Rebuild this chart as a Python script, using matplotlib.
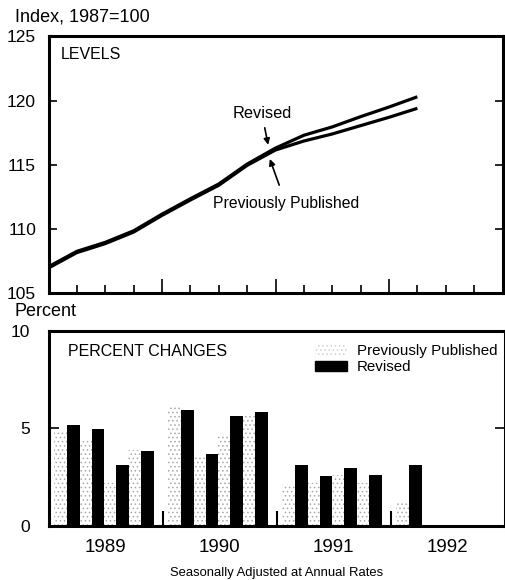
import matplotlib
matplotlib.use("Agg")
import matplotlib.pyplot as plt
from matplotlib.patches import Patch
import numpy as np

plt.rcParams['font.family'] = ['Liberation Sans Narrow', 'Liberation Sans', 'DejaVu Sans']
plt.rcParams['hatch.linewidth'] = 0.6

# ---- data ----
level_quarters = ["1988Q4", "1989Q1", "1989Q2", "1989Q3", "1989Q4",
                  "1990Q1", "1990Q2", "1990Q3", "1990Q4",
                  "1991Q1", "1991Q2", "1991Q3", "1991Q4", "1992Q1"]
levels_revised = [107.05, 108.25, 108.95, 109.85, 111.15, 112.35, 113.5, 115.05,
                  116.3, 117.3, 117.95, 118.75, 119.5, 120.3]
levels_previous = [106.95, 108.15, 108.85, 109.75, 111.05, 112.25, 113.4, 114.95,
                   116.15, 116.85, 117.4, 118.05, 118.7, 119.4]

bar_years = [1989, 1989, 1989, 1989, 1990, 1990, 1990, 1990,
             1991, 1991, 1991, 1991, 1992]
bar_q = [1, 2, 3, 4, 1, 2, 3, 4, 1, 2, 3, 4, 1]
pct_revised = [5.15, 4.97, 3.1, 3.83, 5.92, 3.69, 5.63, 5.81,
               3.12, 2.52, 2.95, 2.61, 3.09]
pct_previous = [4.8, 4.4, 2.2, 3.9, 6.1, 3.5, 4.7, 5.75,
                2.15, 2.2, 2.6, 2.2, 1.2]

year_labels = ["1989", "1990", "1991", "1992"]
level_yticks = [105, 110, 115, 120, 125]
pct_yticks = [0, 5, 10]

# ---- figure ----
W, H = 505, 580
fig = plt.figure(figsize=(W / 100, H / 100), dpi=100)

def frac(l, t, r, b):
    return [l / W, 1 - b / H, (r - l) / W, (b - t) / H]

ax1 = fig.add_axes(frac(48.5, 36.5, 502.5, 293))
ax2 = fig.add_axes(frac(48.5, 331, 504.5, 525.5))

for ax in (ax1, ax2):
    for s in ax.spines.values():
        s.set_linewidth(2.2)
    ax.set_xlim(1989, 1993)

# ---- top panel: levels ----
xq = [1989 + 0.25 * k for k in range(len(level_quarters))]
ax1.plot(xq, levels_previous, color='black', lw=2.3, solid_capstyle='butt')
ax1.plot(xq, levels_revised, color='black', lw=2.3, solid_capstyle='butt')
ax1.set_ylim(105, 125)
ax1.set_yticks(level_yticks)
ax1.tick_params(axis='y', direction='in', length=6, width=1.2, left=True, right=True,
                labelsize=12.5, pad=9)
major = [1990, 1991, 1992]
minor = [1989 + 0.25 * k for k in range(1, 16) if (k % 4) != 0]
ax1.set_xticks(major)
ax1.set_xticks(minor, minor=True)
ax1.tick_params(axis='x', which='major', direction='in', length=10, width=1.2, labelbottom=False)
ax1.tick_params(axis='x', which='minor', direction='in', length=5.5, width=1.2, labelbottom=False)
ax1.text(0.0275, 0.928, "LEVELS", transform=ax1.transAxes, fontsize=11.5, va='center', ha='left')
fig.text(15 / W, 1 - 17 / H, "Index, 1987=100", fontsize=13, va='center', ha='left')

ax1.annotate("Revised", xy=(1990.935, 116.55), xytext=(1990.88, 119.0),
             fontsize=11.8, ha='center', va='center',
             arrowprops=dict(arrowstyle='-|>', color='black', lw=1.2, mutation_scale=9,
                             shrinkA=3, shrinkB=0))
ax1.annotate("Previously Published", xy=(1990.95, 115.45), xytext=(1991.09, 112.0),
             fontsize=11.3, ha='center', va='center',
             arrowprops=dict(arrowstyle='-|>', color='black', lw=1.2, mutation_scale=9,
                             shrinkA=6, shrinkB=0))

# ---- bottom panel: percent changes ----
bw = 0.112
pos = np.array([y + 0.163 + (q - 1) * 0.216 for y, q in zip(bar_years, bar_q)])
ax2.bar(pos - bw, pct_previous, width=bw, align='edge',
        facecolor='white', edgecolor='#a8a8a8', hatch='....', linewidth=0,
        label='Previously Published')
ax2.bar(pos, pct_revised, width=bw, align='edge', color='black', label='Revised')
ax2.set_ylim(0, 10)
ax2.set_yticks(pct_yticks)
ax2.tick_params(axis='y', direction='in', length=7, width=1.2, left=True, right=True,
                labelsize=12.5, pad=13)
ax2.set_xticks(major)
ax2.tick_params(axis='x', which='major', direction='in', length=11, width=1.5,
                labelbottom=False)
ax2.set_xticks([1989.5, 1990.5, 1991.5, 1992.5], minor=True)
ax2.set_xticklabels(year_labels, minor=True)
ax2.tick_params(axis='x', which='minor', length=0, labelsize=13.5, pad=10)
ax2.text(0.042, 0.894, "PERCENT CHANGES", transform=ax2.transAxes, fontsize=11.5,
         va='center', ha='left')
fig.text(15 / W, 1 - 312 / H, "Percent", fontsize=13, va='center', ha='left')
fig.text(277 / W, 1 - 573 / H, "Seasonally Adjusted at Annual Rates", fontsize=9.4,
         va='center', ha='center')

handles = [Patch(facecolor='white', edgecolor='#d0d0d0', hatch='....', linewidth=0),
           Patch(facecolor='black', edgecolor='black')]
ax2.legend(handles, ["Previously Published", "Revised"], loc='upper left',
           bbox_to_anchor=(0.571, 0.965), frameon=False, fontsize=10.9,
           handlelength=2.15, handleheight=0.65, handletextpad=0.6, labelspacing=0.15,
           borderaxespad=0)

fig.savefig("out.png", dpi=100)
